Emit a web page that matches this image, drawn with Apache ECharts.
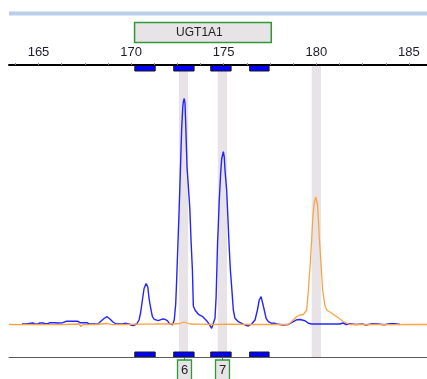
<!DOCTYPE html>
<html>
<head>
<meta charset="utf-8">
<script src="https://cdn.jsdelivr.net/npm/echarts@6/dist/echarts.min.js"></script>
<style>
  html, body { margin: 0; padding: 0; background: #ffffff; }
  #chart { width: 427px; height: 379px; }
</style>
</head>
<body>
<div id="chart"></div>
<script>
// Fragment size axis (bp) and signal axis (RFU-like units)
const X_MIN = 163.407, X_MAX = 185.977;
const Y_MIN = -32, Y_MAX = 260;

const sizeLabels = [165, 170, 175, 180, 185];
const sizeTicks = [163.75, 165, 166.25, 167.5, 168.75, 170, 171.25, 172.5, 173.75,
                   175, 176.25, 177.5, 178.75, 180, 181.25, 182.5, 183.75, 185];

// Marker panel
const geneName = 'UGT1A1';
const geneRange = [170.16, 177.54];
const binRanges = [[170.2, 171.3], [172.3, 173.4], [174.3, 175.4], [176.4, 177.45]];
const bandCenters = [172.83, 174.93, 180.0];
const BAND_HALF = 0.25;
const alleleCenters = [172.83, 174.93];
const alleleNames = ['6', '7'];

// Sample trace (blue dye): [size, signal]
const blueTrace = [
  [164.11, 1], [164.33, 1], [164.43, 2], [164.70, 2], [164.81, 1], [164.97, 1],
  [165.08, 2], [165.24, 2], [165.35, 1.3], [165.51, 1.3], [165.62, 2.3], [165.89, 2.3],
  [166.00, 2], [166.32, 2.3], [166.49, 3.7], [167.13, 3.7], [167.24, 2.3], [167.62, 2.3],
  [167.73, 1], [168.21, 1], [168.38, 4], [168.54, 6.5], [168.70, 8.3], [168.86, 6],
  [169.02, 3], [169.19, 1], [169.56, 1], [169.67, 1.7], [169.89, 1], [170.00, 0],
  [170.12, -0.5], [170.30, 1], [170.43, 5], [170.52, 13], [170.61, 25], [170.70, 36.5],
  [170.81, 41.5], [170.90, 38], [170.97, 26.5], [171.06, 16.5], [171.15, 8.3], [171.25, 5.7],
  [171.47, 4.3], [171.65, 5.7], [171.79, 6], [171.96, 4.3], [172.06, 1.7], [172.23, 0],
  [172.33, 5], [172.41, 21.5], [172.46, 45], [172.52, 77], [172.59, 113], [172.66, 154],
  [172.73, 196], [172.79, 218], [172.82, 223], [172.87, 226.5], [172.91, 222], [172.95, 200],
  [173.02, 158], [173.17, 117], [173.24, 83], [173.31, 55], [173.36, 19], [173.45, 15],
  [173.63, 10.7], [173.87, 8.3], [174.08, 4.3], [174.22, 0.7], [174.35, -3.3], [174.44, -2.3],
  [174.53, 6.7], [174.59, 28], [174.63, 55], [174.67, 83], [174.71, 100], [174.76, 125],
  [174.84, 153], [174.89, 166], [174.98, 173.3], [175.03, 168], [175.07, 155], [175.16, 135],
  [175.22, 110], [175.29, 80], [175.36, 55], [175.43, 38], [175.52, 15], [175.61, 6.7],
  [175.79, 3.3], [175.97, 1.7], [176.15, 0], [176.33, -1], [176.51, 1], [176.69, 5],
  [176.82, 15], [176.92, 25], [177.02, 28.3], [177.11, 26.7], [177.19, 15], [177.29, 6.7],
  [177.41, 3.3], [177.59, 1.7], [177.77, 1.7], [177.95, 0.7], [178.20, 0], [178.49, 0.5],
  [178.76, 3.3], [178.96, 5.3], [179.12, 5.5], [179.39, 4.3], [179.57, 1.7], [179.75, 1],
  [180.20, 1], [180.74, 1], [181.28, 1], [181.44, 2], [181.61, 0.5], [181.82, 1.3],
  [182.15, 0.5], [182.47, 1], [182.69, 0], [183.01, 1.3], [183.33, 1], [183.66, 0.3],
  [183.98, 1.3], [184.25, 1.2], [184.52, 0.5]
];

// Size standard trace (orange dye): [size, signal]
const orangeTrace = [
  [163.41, 0.5], [164.00, 0.3], [164.81, 0.6], [165.62, 0.4], [166.43, 0.5], [167.19, 1],
  [167.29, -1.5], [167.40, 0.3], [168.05, 0.5], [168.75, 1.5], [168.97, 0.3], [169.67, 0.5],
  [170.48, 0.8], [171.29, 1], [171.94, 1.2], [172.26, 1], [172.64, 1.5], [172.86, 3],
  [173.02, 2], [173.18, 1], [173.72, 0.8], [174.42, 0.5], [175.34, 0.8], [176.42, 0.5],
  [177.50, 0.5], [178.47, 0.5], [178.58, 2], [178.76, 5], [178.94, 8.5], [179.12, 10],
  [179.30, 10.5], [179.39, 12], [179.48, 15], [179.57, 34], [179.66, 58], [179.75, 85],
  [179.81, 107], [179.88, 121], [179.97, 128], [180.06, 121], [180.11, 107], [180.16, 88],
  [180.25, 62], [180.34, 35], [180.47, 19], [180.56, 15], [180.74, 13], [181.01, 9.5],
  [181.24, 6.5], [181.46, 3.5], [181.68, 1.5], [181.82, 0.5], [182.90, 0.5], [183.98, 0.3],
  [185.06, 0.5], [185.98, 0.5]
];

const FONT = 'Liberation Sans, Arial, sans-serif';
const GREEN = '#2f9a35';
const PANEL_FILL = '#e7e3e7';

const chart = echarts.init(document.getElementById('chart'), null, { renderer: 'canvas' });

chart.setOption({
  animation: false,
  backgroundColor: '#ffffff',
  grid: { left: 9, right: 0, top: 65, bottom: 22, containLabel: false },
  graphic: [
    { type: 'rect', left: 9, top: 11.5, shape: { width: 418, height: 4 },
      style: { fill: '#b7cfe8' }, silent: true }
  ],
  xAxis: [
    {
      type: 'value', position: 'top', min: X_MIN, max: X_MAX, z: 6,
      axisLine: { show: true, onZero: false, lineStyle: { color: '#000000', width: 2 } },
      axisTick: { show: true, customValues: sizeTicks, length: 2, lineStyle: { color: '#8a8a8a', width: 1 } },
      axisLabel: { show: true, customValues: sizeLabels, margin: 6, color: '#1c1c28',
                   fontFamily: FONT, fontSize: 13 },
      splitLine: { show: false }
    },
    {
      type: 'value', position: 'bottom', min: X_MIN, max: X_MAX, z: 6,
      axisLine: { show: true, onZero: false, lineStyle: { color: '#5a5a5a', width: 1 } },
      axisTick: { show: false }, axisLabel: { show: false }, splitLine: { show: false }
    }
  ],
  yAxis: {
    type: 'value', min: Y_MIN, max: Y_MAX, show: false, splitLine: { show: false }
  },
  series: [
    {
      // highlighted allele positions
      type: 'custom', name: 'bands', z: 1, silent: true, clip: false,
      data: bandCenters.map(c => [c - BAND_HALF, c + BAND_HALF]),
      renderItem(params, api) {
        const a = api.coord([api.value(0), Y_MAX]);
        const b = api.coord([api.value(1), Y_MIN]);
        return { type: 'rect', shape: { x: a[0], y: a[1] + 1, width: b[0] - a[0], height: b[1] - a[1] - 1 },
                 style: { fill: PANEL_FILL } };
      }
    },
    {
      type: 'line', name: 'blue', z: 3, data: blueTrace, showSymbol: false, smooth: false,
      lineStyle: { color: '#2424ff', width: 1.4 }, silent: true
    },
    {
      type: 'line', name: 'orange', z: 4, data: orangeTrace, showSymbol: false, smooth: false,
      lineStyle: { color: '#ffa244', width: 1.3 }, silent: true
    },
    {
      // allele bins on both axes
      type: 'custom', name: 'bins', z: 5, silent: true, clip: false,
      data: binRanges,
      renderItem(params, api) {
        const t0 = api.coord([api.value(0), Y_MAX]);
        const t1 = api.coord([api.value(1), Y_MIN]);
        const w = t1[0] - t0[0];
        const style = { fill: '#0000ff', stroke: '#1a1a1a', lineWidth: 1 };
        return { type: 'group', children: [
          { type: 'rect', shape: { x: t0[0], y: t0[1] + 0.5, width: w, height: 5.5 }, style },
          { type: 'rect', shape: { x: t0[0], y: t1[1] - 5, width: w, height: 5 }, style }
        ] };
      }
    },
    {
      // marker name panel
      type: 'custom', name: 'marker', z: 5, silent: true, clip: false,
      data: [geneRange],
      renderItem(params, api) {
        const a = api.coord([api.value(0), Y_MAX]);
        const b = api.coord([api.value(1), Y_MAX]);
        return { type: 'group', children: [
          { type: 'rect', shape: { x: a[0] + 0.5, y: a[1] - 42.5, width: b[0] - a[0], height: 20 },
            style: { fill: PANEL_FILL, stroke: GREEN, lineWidth: 1.5 } },
          { type: 'text', x: (a[0] + b[0]) / 2 - 3, y: a[1] - 32.5,
            style: { text: geneName, fill: '#222222', font: '12px ' + FONT, align: 'center', verticalAlign: 'middle' } }
        ] };
      }
    },
    {
      // allele call labels
      type: 'custom', name: 'alleles', z: 5, silent: true, clip: false,
      data: alleleCenters.map((c, i) => [c, i]),
      renderItem(params, api) {
        const p = api.coord([api.value(0), Y_MIN]);
        const name = alleleNames[api.value(1)];
        const x = Math.round(p[0]);
        return { type: 'group', children: [
          { type: 'line', shape: { x1: x + 0.5, y1: p[1], x2: x + 0.5, y2: p[1] + 3 },
            style: { stroke: GREEN, lineWidth: 1 } },
          { type: 'rect', shape: { x: x - 6.5, y: p[1] + 3, width: 14, height: 20 },
            style: { fill: PANEL_FILL, stroke: GREEN, lineWidth: 1.3 } },
          { type: 'text', x: x + 0.5, y: p[1] + 13.5,
            style: { text: name, fill: '#222222', font: '13px ' + FONT, align: 'center', verticalAlign: 'middle' } }
        ] };
      }
    }
  ]
});
</script>
</body>
</html>
